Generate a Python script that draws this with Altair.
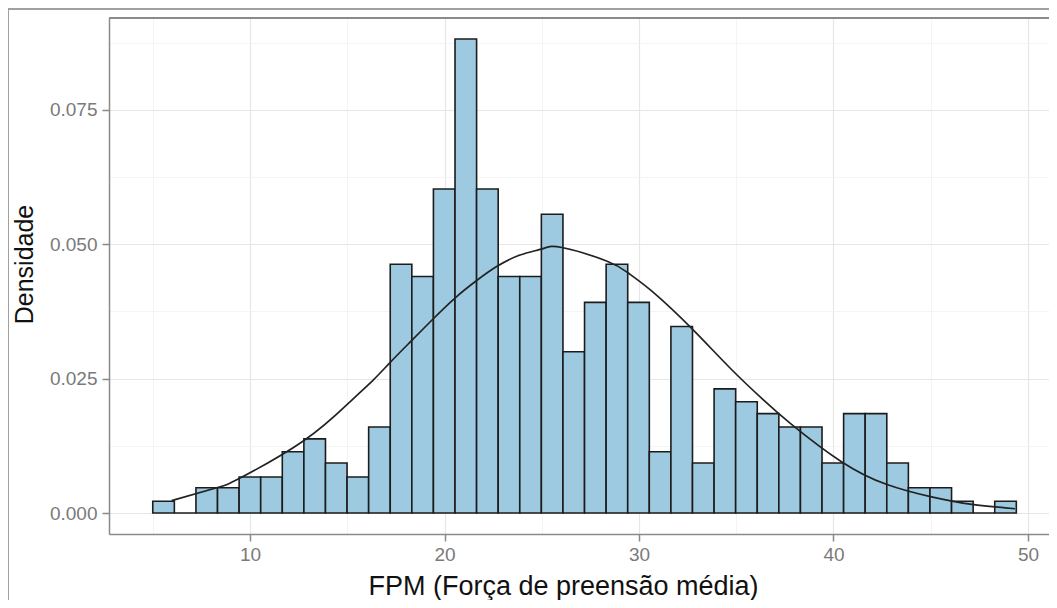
import altair as alt
import pandas as pd

# Histogram: 40 bins starting at 5.0 with width ~1.11 (density scale)
bin_start = 5.0
bin_width = 1.11
density = [0.0022, 0.0, 0.0047, 0.0047, 0.0067, 0.0067, 0.0114, 0.0138, 0.0093, 0.0067,
           0.0160, 0.0463, 0.0440, 0.0603, 0.0882, 0.0603, 0.0440, 0.0440, 0.0556, 0.0300,
           0.0392, 0.0463, 0.0392, 0.0114, 0.0347, 0.0093, 0.0231, 0.0207, 0.0185, 0.0160,
           0.0160, 0.0093, 0.0185, 0.0185, 0.0093, 0.0047, 0.0047, 0.0022, 0.0, 0.0022]

# Fitted normal curve
curve_x = [5.97, 8.29, 9.49, 12.74, 15.14, 16.32, 17.20, 18.23, 19.41, 20.54, 21.67,
           22.70, 23.88, 25.06, 26.04, 28.33, 29.43, 30.72, 32.72, 34.73, 36.38,
           37.81, 40.39, 42.75, 45.04, 47.12, 49.33]
curve_y = [0.0023, 0.0047, 0.0065, 0.0134, 0.0207, 0.0247, 0.0280, 0.0318, 0.0361, 0.0400,
           0.0433, 0.0459, 0.0480, 0.0492, 0.0494, 0.0469, 0.0447, 0.0411, 0.0343, 0.0268,
           0.0211, 0.0166, 0.0096, 0.0053, 0.0030, 0.0016, 0.0008]

x_ticks = [5, 10, 15, 20, 25, 30, 35, 40, 45, 50]
y_ticks = [0.0, 0.0125, 0.025, 0.0375, 0.05, 0.0625, 0.075, 0.0875]

x_title = "FPM (Força de preensão média)"
y_title = "Densidade"

hist = pd.DataFrame({
    "lo": [bin_start + i * bin_width for i in range(len(density))],
    "hi": [bin_start + (i + 1) * bin_width for i in range(len(density))],
    "density": density,
    "zero": [0.0] * len(density),
})
curve = pd.DataFrame({"x": curve_x, "y": curve_y})

FONT = "Liberation Sans"
PW = 940
x_scale = alt.Scale(domain=[2.75, 51.08], nice=False, zero=False)
y_scale = alt.Scale(domain=[-0.0039, 0.0921], nice=False, zero=False)

major_x = "datum.value % 10 === 0"
major_y = "abs(datum.value / 0.025 - round(datum.value / 0.025)) < 1e-6"

x_axis = alt.Axis(
    values=x_ticks,
    title=x_title,
    labelExpr=f"{major_x} ? datum.label : ''",
    gridColor={"expr": f"{major_x} ? '#e6e6e6' : '#f1f1f1'"},
    gridWidth={"expr": f"{major_x} ? 1.2 : 0.8"},
    tickOpacity={"expr": f"{major_x} ? 1 : 0"},
    tickSize=7, tickWidth=1.5, tickColor="#8a8a8a",
    domainColor="#8a8a8a", domainWidth=1.5,
    labelFont=FONT, labelFontSize=19, labelColor="#7a7a7a", labelPadding=4,
    titleFont=FONT, titleFontSize=27, titleFontWeight="normal", titleColor="#111111",
    titleX=454, titleY=60, titleAnchor="start", titleAlign="center", titleBaseline="alphabetic",
)
y_axis = alt.Axis(
    values=y_ticks,
    title=y_title,
    labelExpr=f"{major_y} ? format(datum.value, '.3f') : ''",
    gridColor={"expr": f"{major_y} ? '#e6e6e6' : '#f1f1f1'"},
    gridWidth={"expr": f"{major_y} ? 1.2 : 0.8"},
    tickOpacity={"expr": f"{major_y} ? 1 : 0"},
    tickSize=7, tickWidth=1.5, tickColor="#8a8a8a",
    domainColor="#8a8a8a", domainWidth=1.5,
    labelFont=FONT, labelFontSize=19, labelColor="#7a7a7a", labelPadding=5,
    titleFont=FONT, titleFontSize=25, titleFontWeight="normal", titleColor="#111111",
    titleX=-85, titleY=246, titleAngle=270, titleAlign="center", titleBaseline="middle",
)

bars = alt.Chart(hist).mark_rect(
    fill="#9ecae1", stroke="#1c1c1c", strokeWidth=1.6
).encode(
    x=alt.X("lo:Q", scale=x_scale, axis=x_axis),
    x2="hi:Q",
    y=alt.Y("zero:Q", scale=y_scale, axis=y_axis),
    y2="density:Q",
)

line = alt.Chart(curve).mark_line(
    color="#222222", strokeWidth=1.7, interpolate="natural"
).encode(
    x=alt.X("x:Q", scale=x_scale),
    y=alt.Y("y:Q", scale=y_scale),
)

# panel top border and the outer frame of the figure
top_border = alt.Chart(hist).mark_rule(color="#8a8a8a", strokeWidth=1.5, clip=False).encode(
    x=alt.value(0), x2=alt.value(PW), y=alt.value(0)
)
frame_top = alt.Chart(hist).mark_rule(color="#a0a0a0", strokeWidth=1.5, clip=False).encode(
    x=alt.value(-101), x2=alt.value(PW), y=alt.value(-9)
)
frame_left = alt.Chart(hist).mark_rule(color="#a0a0a0", strokeWidth=1.5, clip=False).encode(
    x=alt.value(-101), y=alt.value(-9), y2=alt.value(600)
)

chart = alt.layer(bars, line, top_border, frame_top, frame_left).properties(
    width=PW,
    height=516,
    autosize=alt.AutoSizeParams(type="none"),
    padding={"left": 101, "top": 10, "right": 0, "bottom": 66},
).configure_view(stroke=None).configure(background="white")

chart.save("out.html", embed_options={"renderer": "svg", "actions": False})
